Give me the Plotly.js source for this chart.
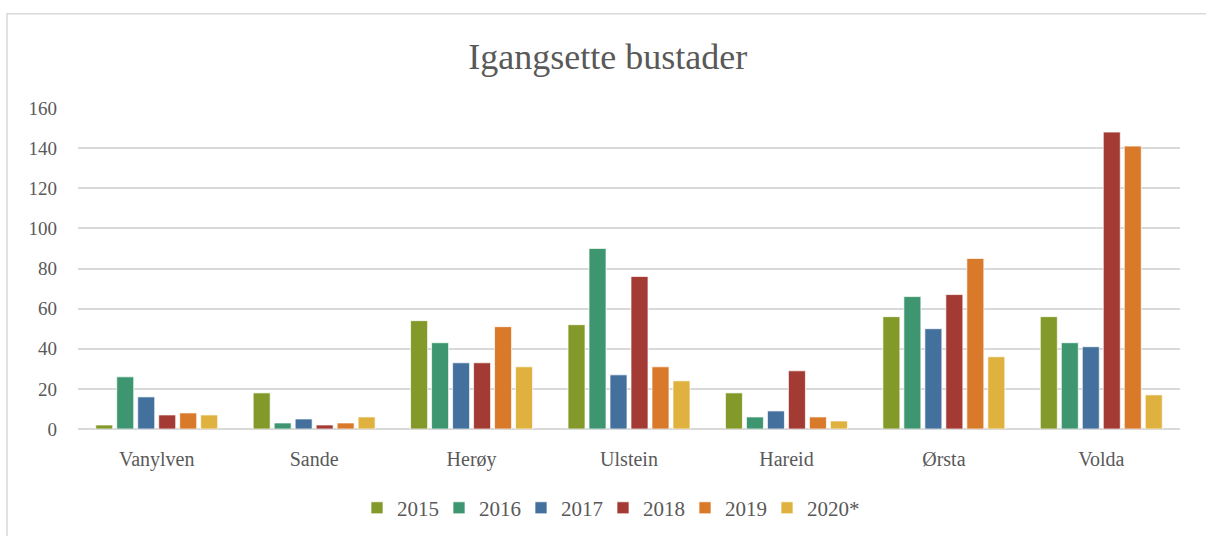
<!DOCTYPE html>
<html>
<head>
<meta charset="utf-8">
<script src="https://cdn.plot.ly/plotly-3.0.1.min.js"></script>
<style>html,body{margin:0;padding:0;background:#fff;}#chart{width:1206px;height:536px;}</style>
</head>
<body>
<div id="chart"></div>
<script>
var categories = ["Vanylven", "Sande", "Herøy", "Ulstein", "Hareid", "Ørsta", "Volda"];
var seriesNames = ["2015", "2016", "2017", "2018", "2019", "2020*"];
var v2015 = [2, 18, 54, 52, 18, 56, 56];
var v2016 = [26, 3, 43, 90, 6, 66, 43];
var v2017 = [16, 5, 33, 27, 9, 50, 41];
var v2018 = [7, 2, 33, 76, 29, 67, 148];
var v2019 = [8, 3, 51, 31, 6, 85, 141];
var v2020 = [7, 6, 31, 24, 4, 36, 17];
var colors = ["#839A2B", "#3D9670", "#44709D", "#A33A33", "#D9792A", "#DFB13F"];
var yTicks = [0, 20, 40, 60, 80, 100, 120, 140, 160];

var allValues = [v2015, v2016, v2017, v2018, v2019, v2020];
var font = "Liberation Serif, Times New Roman, serif";
var textColor = "#595959";

var traces = allValues.map(function (vals, i) {
  return {
    type: "bar",
    name: seriesNames[i],
    x: categories,
    y: vals,
    marker: { color: colors[i], line: { color: "rgba(255,255,255,0.7)", width: 1 } },
    hoverinfo: "x+y+name"
  };
});

var layout = {
  width: 1206,
  height: 536,
  paper_bgcolor: "#ffffff",
  plot_bgcolor: "#ffffff",
  margin: { l: 78, r: 26, t: 108, b: 107, pad: 0 },
  barmode: "group",
  bargap: 0.2,
  bargroupgap: 0.19,
  font: { family: font, color: textColor, size: 19 },
  title: {
    text: "Igangsette bustader",
    font: { family: font, size: 36, color: textColor },
    xref: "container", x: 0.504, xanchor: "center",
    yref: "container", y: 0.894, yanchor: "middle"
  },
  xaxis: {
    type: "category",
    showgrid: false,
    zeroline: false,
    showline: false,
    ticks: "",
    tickfont: { family: font, size: 20, color: textColor },
    ticklabelstandoff: 16
  },
  yaxis: {
    range: [0, 160],
    tickvals: yTicks,
    ticktext: yTicks.map(String),
    showgrid: true,
    gridcolor: "#d9d9d9",
    gridwidth: 2,
    zeroline: true,
    zerolinecolor: "#d9d9d9",
    zerolinewidth: 2,
    showline: false,
    ticks: "",
    tickfont: { family: font, size: 19, color: textColor },
    ticklabelstandoff: 20
  },
  showlegend: true,
  legend: {
    orientation: "h",
    xref: "container", x: 0.5, xanchor: "center",
    yref: "container", y: 0.052, yanchor: "middle",
    font: { family: font, size: 21, color: textColor },
    entrywidth: 37,
    entrywidthmode: "pixels",
    traceorder: "normal",
    bgcolor: "rgba(0,0,0,0)"
  },
  shapes: [{
    type: "rect", xref: "paper", yref: "paper",
    x0: (7 - 78) / 1102, x1: (1240 - 78) / 1102,
    y0: -(560 - 428) / 320, y1: 1 + (108 - 14) / 320,
    line: { color: "#d9d9d9", width: 1.5 },
    fillcolor: "rgba(0,0,0,0)",
    layer: "below"
  }]
};

Plotly.newPlot("chart", traces, layout, { displayModeBar: false, staticPlot: true }).then(function (gd) {
  gd.querySelectorAll(".legend .scrollbox, .legend").forEach(function (el) {
    el.removeAttribute("clip-path");
  });
});
</script>
</body>
</html>
